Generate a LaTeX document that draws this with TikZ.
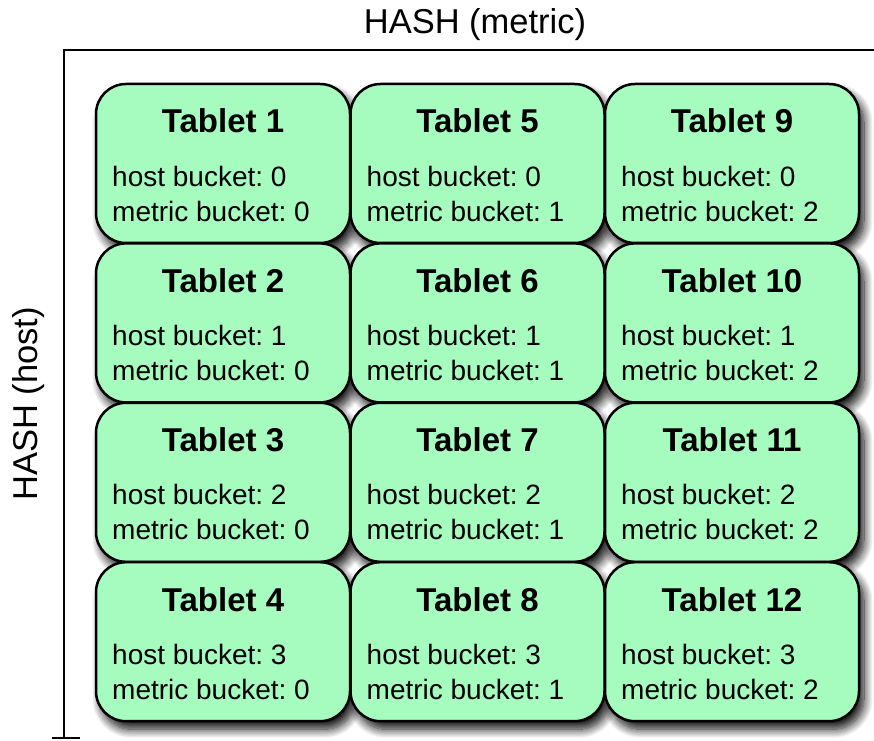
\documentclass[tikz,border=0pt]{standalone}
\usepackage{fontspec}
\setmainfont{Liberation Sans}
\usetikzlibrary{shadows.blur,backgrounds}
\definecolor{tabletfill}{RGB}{166,251,191}
\frenchspacing
\begin{document}
\begin{tikzpicture}[x=1pt,y=1pt,
  tablet/.style={draw=black, line width=2.5pt, fill=tabletfill, rounded corners=30pt,
    minimum width=254pt, minimum height=159pt, inner sep=0pt, outer sep=0pt},
  shadowbox/.style={rounded corners=30pt, blur shadow={shadow xshift=5pt, shadow yshift=-8pt,
    shadow blur radius=9pt, shadow blur steps=12, shadow opacity=95}},
  axis/.style={line width=2.8pt, black},
  titletext/.style={font=\fontsize{33}{40}\selectfont\bfseries, inner sep=0pt},
  bodytext/.style={font=\fontsize{28}{34}\selectfont, inner sep=0pt, anchor=west},
  axislabel/.style={font=\fontsize{34.5}{40}\selectfont, inner sep=0pt},
]
\useasboundingbox (0,0) rectangle (874,740);
% tablets
\foreach \c in {0,1,2}{
  \foreach \r in {0,1,2,3}{
    \pgfmathtruncatemacro{\n}{\c*4+\r+1}
    \node[tablet] (t\n) at ({223+254.5*\c},{576.5-159.4*\r}) {};
    \node[titletext] (t\n title) at ([yshift=-37pt]t\n.north) {Tablet \n};
    \node[bodytext] (t\n host) at ([xshift=16pt,yshift=-92pt]t\n.north west) {host bucket: \r};
    \node[bodytext] (t\n metric) at ([xshift=16pt,yshift=-127pt]t\n.north west) {metric bucket: \c};
  }
}
\begin{scope}[on background layer]
  \foreach \n in {1,...,12}{
    \path[shadowbox] (t\n.south west) rectangle (t\n.north east);
  }
\end{scope}
% axes
\coordinate (axtr) at (874,690);
\coordinate (axtl) at (64,690);
\coordinate (axbot) at (64,2);
\coordinate (tickl) at (52,2);
\coordinate (tickr) at (80,2);
\draw[axis, line join=miter] (axtr) -- (axtl) -- (axbot);
\draw[axis] (tickl) -- (tickr);
\node[axislabel, anchor=base] (hmetric) at (475,706) {HASH (metric)};
\node[axislabel, rotate=90, anchor=base] (hhost) at (37,336) {HASH (host)};
\end{tikzpicture}
\end{document}
